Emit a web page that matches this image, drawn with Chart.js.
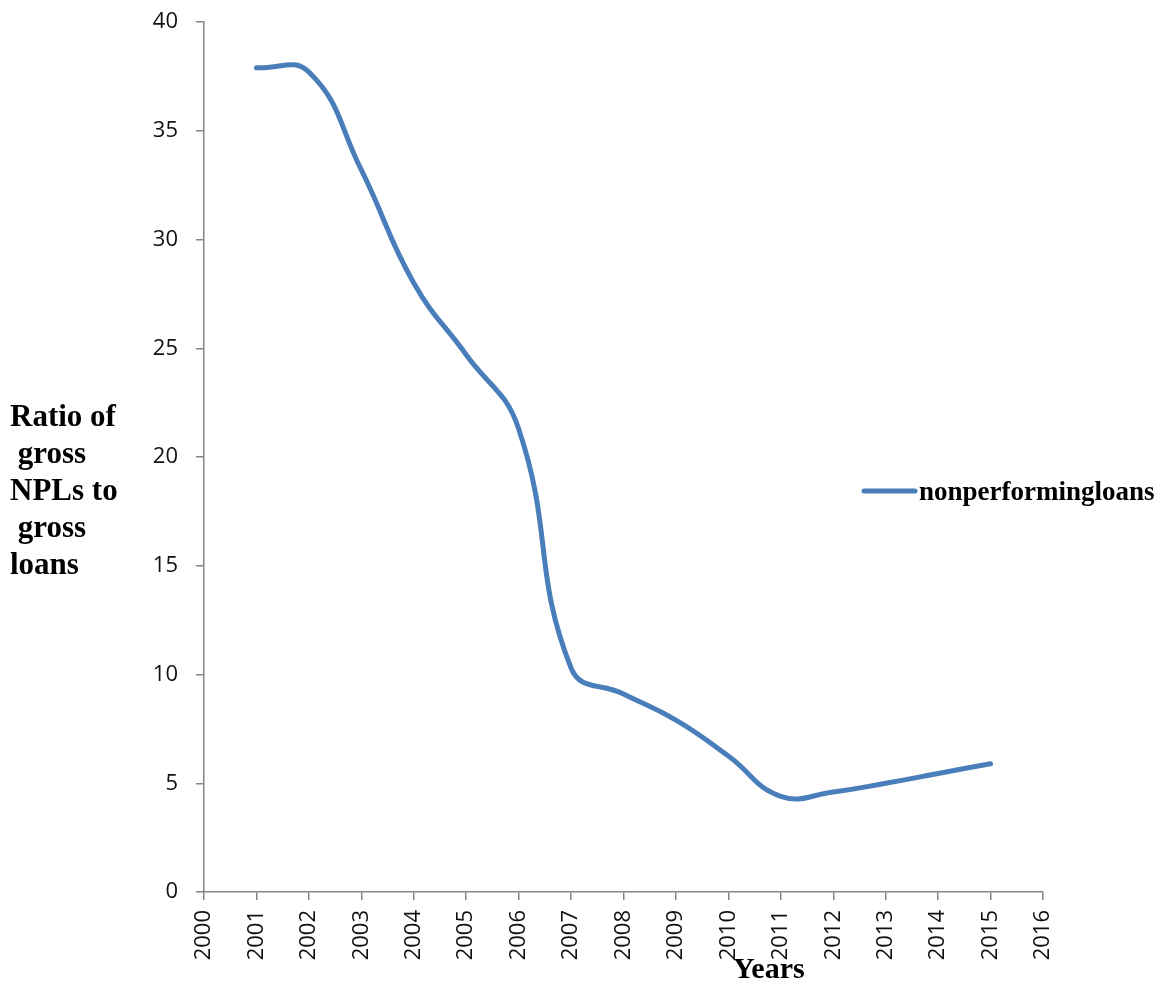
<!DOCTYPE html>
<html>
<head>
<meta charset="utf-8">
<script src="https://cdn.jsdelivr.net/npm/chart.js@4.4.1/dist/chart.umd.min.js"></script>
<style>
  html, body { margin: 0; padding: 0; background: #ffffff; }
  #wrap { width: 1159px; height: 984px; position: relative; }
</style>
</head>
<body>
<div id="wrap"><canvas id="c" width="1159" height="984"></canvas></div>
<script>
// Ratio of gross non-performing loans to gross loans, by year
const years = [2001, 2002, 2003, 2004, 2005, 2006, 2007, 2008, 2009, 2010, 2011, 2012, 2013, 2014, 2015];
const npl   = [37.9, 37.7, 33.2, 28.0, 24.7, 21.3, 10.3, 9.1, 7.9, 6.25, 4.4, 4.6, 5.0, 5.45, 5.9];

const xTickValues = [2000, 2001, 2002, 2003, 2004, 2005, 2006, 2007, 2008, 2009, 2010, 2011, 2012, 2013, 2014, 2015, 2016];
const yTickValues = [0, 5, 10, 15, 20, 25, 30, 35, 40];

const seriesLabel = 'nonperformingloans';
const yTitleLines = ['Ratio of', ' gross', 'NPLs to', ' gross', 'loans'];
const xTitle = 'Years';

const lineColor = '#4a7ebb';
const axisColor = '#868686';
const tickFont = { family: 'Open Sans', size: 22 };

// Axis titles and legend drawn in serif bold, as free-standing text
const annotations = {
  id: 'annotations',
  afterDraw(chart) {
    const ctx = chart.ctx;
    ctx.save();
    ctx.fillStyle = '#000';
    ctx.textBaseline = 'middle';
    ctx.textAlign = 'left';

    // vertical-axis title, stacked lines
    ctx.font = 'bold 31px "Liberation Serif"';
    const yCenters = [418, 455, 492, 529, 566];
    yTitleLines.forEach((t, i) => ctx.fillText(t, 10, yCenters[i]));

    // horizontal-axis title
    ctx.font = 'bold 30px "Liberation Serif"';
    ctx.fillText(xTitle, 733, 970);

    // legend entry
    const ds = chart.data.datasets[0];
    ctx.strokeStyle = ds.borderColor;
    ctx.lineWidth = 5;
    ctx.lineCap = 'round';
    ctx.beginPath();
    ctx.moveTo(864, 491);
    ctx.lineTo(915, 491);
    ctx.stroke();
    ctx.font = 'bold 27px "Liberation Serif"';
    ctx.fillText(ds.label, 919, 493);
    ctx.restore();
  }
};

new Chart(document.getElementById('c'), {
  type: 'line',
  data: {
    datasets: [{
      label: seriesLabel,
      data: years.map((y, i) => ({ x: y, y: npl[i] })),
      borderColor: lineColor,
      backgroundColor: lineColor,
      borderWidth: 5,
      borderCapStyle: 'round',
      borderJoinStyle: 'round',
      pointRadius: 0,
      tension: 0.45,
      fill: false
    }]
  },
  options: {
    responsive: false,
    animation: false,
    devicePixelRatio: 1,
    layout: { padding: { top: 22, right: 116, left: 0, bottom: 0 } },
    plugins: {
      legend: { display: false },
      tooltip: { enabled: false }
    },
    scales: {
      x: {
        type: 'linear',
        min: 2000,
        max: 2016,
        afterBuildTicks(scale) { scale.ticks = xTickValues.map(v => ({ value: v })); },
        afterFit(scale) {
          scale.height = 92;
          scale.paddingLeft = 0;
          scale.paddingRight = 0;
        },
        grid: { drawOnChartArea: false, drawTicks: true, tickLength: 8, color: axisColor, lineWidth: 1.5 },
        border: { display: true, color: axisColor, width: 1.5 },
        ticks: {
          autoSkip: false,
          minRotation: 90,
          maxRotation: 90,
          padding: 10,
          color: '#111',
          font: tickFont,
          callback: v => String(v)
        }
      },
      y: {
        min: 0,
        max: 40,
        afterBuildTicks(scale) { scale.ticks = yTickValues.map(v => ({ value: v })); },
        afterFit(scale) {
          scale.width = 204;
          scale.paddingTop = 0;
          scale.paddingBottom = 0;
        },
        grid: { drawOnChartArea: false, drawTicks: true, tickLength: 8, color: axisColor, lineWidth: 1.5 },
        border: { display: true, color: axisColor, width: 1.5 },
        ticks: {
          padding: 18,
          color: '#111',
          font: tickFont,
          callback: v => String(v)
        }
      }
    }
  },
  plugins: [annotations]
});
</script>
</body>
</html>
